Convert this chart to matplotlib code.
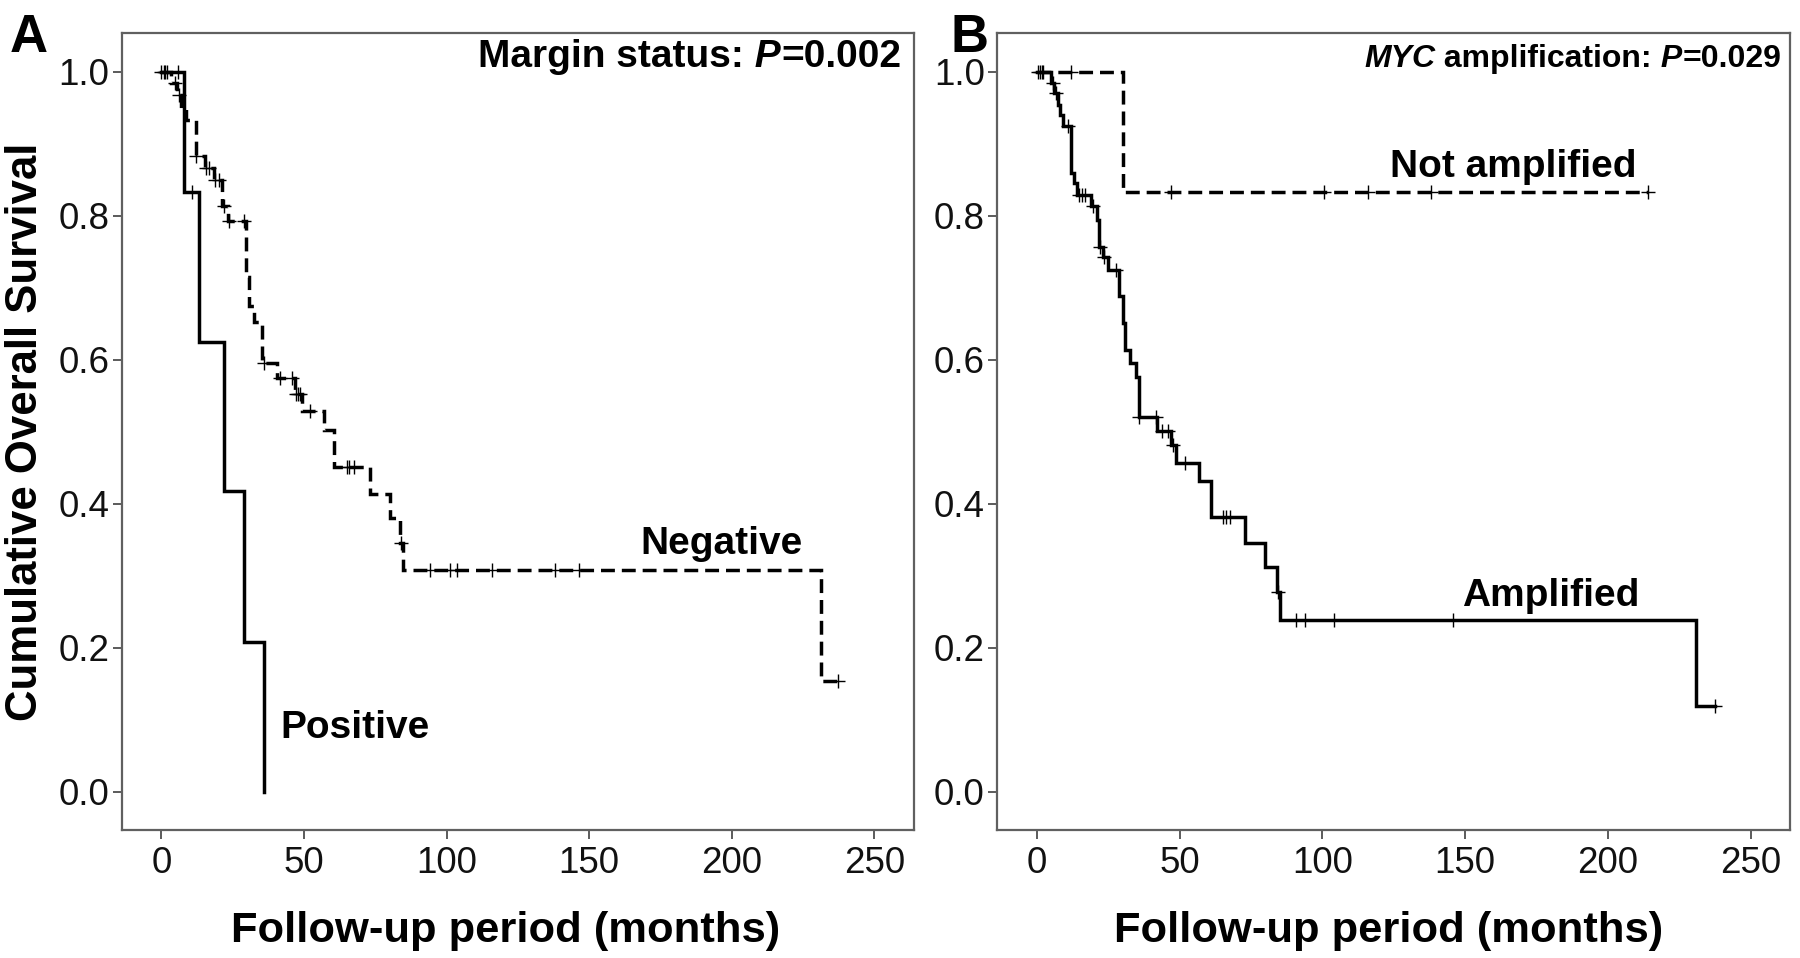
import numpy as np
import matplotlib
matplotlib.use('Agg')
import matplotlib.pyplot as plt
from matplotlib import font_manager
from matplotlib.transforms import IdentityTransform

plt.rcParams['font.family'] = ['Liberation Sans', 'DejaVu Sans']

# ---------------- data ----------------
# Panel A: margin status
neg_t = [0, 3.5, 5.5, 7.0, 8.5, 12.0, 15.2, 18.5, 21.3, 23.3, 29.8, 30.6, 32.4, 35.3,
         40.5, 47.0, 49.3, 56.9, 60.4, 73.0, 80.0, 83.8, 84.9, 231.2]
neg_s = [1.0, 0.984, 0.968, 0.950, 0.933, 0.883, 0.866, 0.850, 0.813, 0.793, 0.715, 0.674,
         0.653, 0.595, 0.574, 0.553, 0.529, 0.502, 0.451, 0.414, 0.380, 0.345, 0.308, 0.154]
neg_end = 237.4
neg_cens = [0.0, 0.8, 1.4, 2.0, 4.7, 6.1, 12.2, 15.7, 16.6, 18.9, 20.1, 21.8, 23.6, 28.9,
            36.0, 41.7, 45.8, 47.3, 48.0, 48.5, 52.0, 65.1, 65.9, 67.4, 84.1, 94.1, 101.1,
            103.6, 115.9, 138.1, 146.3, 237.4]

pos_t = [0, 8.1, 13.2, 21.8, 29.1, 36.1]
pos_s = [1.0, 0.833, 0.625, 0.417, 0.208, 0.0]
pos_end = 36.1
pos_cens = [5.7, 10.7]

# Panel B: MYC amplification
na_t = [0, 30.0]
na_s = [1.0, 0.833]
na_end = 214.1
na_cens = [1.0, 2.2, 11.9, 47.0, 100.7, 115.9, 137.9, 214.1]

amp_t = [0, 4.9, 6.0, 7.2, 8.0, 9.0, 11.9, 13.0, 14.0, 18.9, 20.9, 21.8, 23.0, 24.8, 28.9,
         30.0, 31.0, 32.5, 34.7, 35.6, 41.9, 47.0, 48.7, 56.9, 60.8, 73.0, 80.0, 84.0, 85.0,
         231.0]
amp_s = [1.0, 0.984, 0.970, 0.954, 0.940, 0.924, 0.860, 0.845, 0.829, 0.813, 0.794, 0.757,
         0.743, 0.725, 0.688, 0.651, 0.614, 0.595, 0.576, 0.521, 0.501, 0.481, 0.457, 0.432,
         0.381, 0.346, 0.312, 0.277, 0.239, 0.119]
amp_end = 237.4
amp_cens = [0.5, 1.6, 5.5, 6.5, 11.0, 14.7, 15.8, 16.9, 19.5, 22.2, 23.5, 27.7, 35.8, 41.7,
            43.8, 45.8, 47.6, 51.9, 65.1, 66.2, 67.6, 84.3, 90.8, 94.0, 104.0, 145.9, 237.4]

x_ticks = [0, 50, 100, 150, 200, 250]
y_ticks = [0.0, 0.2, 0.4, 0.6, 0.8, 1.0]
x_label = 'Follow-up period (months)'
y_label = 'Cumulative Overall Survival'

# ---------------- figure ----------------
W, H = 1800, 958
fig = plt.figure(figsize=(W / 100, H / 100), dpi=100)

def px_axes(left, top, right, bottom):
    return [left / W, 1 - bottom / H, (right - left) / W, (bottom - top) / H]

axA = fig.add_axes(px_axes(121.7, 32.7, 913.7, 830.3))
axB = fig.add_axes(px_axes(997.3, 32.7, 1790.0, 830.3))

LW = 2.5
DASH = (0, (4.0, 2.0))

def level_at(times, surv, t):
    idx = np.searchsorted(np.asarray(times), np.asarray(t), side='right') - 1
    return np.asarray(surv)[idx]

def draw_km(ax, times, surv, end, cens, ls):
    x = list(times) + [end]
    y = list(surv) + [surv[-1]]
    ax.step(x, y, where='post', color='black', lw=LW, linestyle=ls,
            solid_joinstyle='miter', dash_joinstyle='miter', dash_capstyle='butt')
    cy = level_at(times, surv, cens)
    ax.plot(cens, cy, linestyle='none', marker='+', ms=9.5, mew=1.0, color='black')

draw_km(axA, neg_t, neg_s, neg_end, neg_cens, DASH)
draw_km(axA, pos_t, pos_s, pos_end, pos_cens, '-')
draw_km(axB, na_t, na_s, na_end, na_cens, DASH)
draw_km(axB, amp_t, amp_s, amp_end, amp_cens, '-')

for ax in (axA, axB):
    ax.set_xlim(-13.9, 263.8)
    ax.set_ylim(-0.0536, 1.0542)
    ax.set_xticks(x_ticks)
    ax.set_xticklabels([str(v) for v in x_ticks])
    ax.set_yticks(y_ticks)
    ax.set_yticklabels(['%.1f' % v for v in y_ticks])
    for sp in ax.spines.values():
        sp.set_color('#606060')
        sp.set_linewidth(1.6)
    ax.tick_params(direction='out', length=6.5, width=1.2, color='#404040',
                   labelsize=26.5, labelcolor='#111111')
    ax.tick_params(axis='x', pad=4.5)
    ax.tick_params(axis='y', pad=2.5)

TI = IdentityTransform()

def ptext(x, y_img, s, size, **kw):
    return fig.text(x, H - y_img, s, fontsize=size, fontweight='bold',
                    transform=TI, **kw)

# axis labels
ptext(506, 941.7, x_label, 31.3, ha='center', va='baseline')
ptext(1389, 941.7, x_label, 31.3, ha='center', va='baseline')
ptext(26, 432, y_label, 31.5, ha='center', va='center', rotation=90)

# panel letters
ptext(10, 52, 'A', 38, ha='left', va='baseline')
ptext(951, 52, 'B', 38, ha='left', va='baseline')

# curve labels
ptext(640, 554, 'Negative', 28, ha='left', va='baseline')
ptext(280, 738, 'Positive', 28, ha='left', va='baseline')
ptext(1390, 177, 'Not amplified', 28, ha='left', va='baseline')
ptext(1462, 606, 'Amplified', 28, ha='left', va='baseline')

# titles with mixed italic parts
renderer = fig.canvas.get_renderer()

def rich_right(x_right, y_img, parts, size, family=None):
    kw = {} if family is None else {'family': family}
    objs = [ptext(0, y_img, s, size, fontstyle=st, ha='left', va='baseline', **kw)
            for s, st in parts]
    widths = [o.get_window_extent(renderer).width for o in objs]
    x = x_right - sum(widths)
    for o, w in zip(objs, widths):
        o.set_position((x, H - y_img))
        x += w

installed = {f.name for f in font_manager.fontManager.ttflist}
rich_right(901, 67, [('Margin status:', 'normal'), (' P', 'italic'), ('=0.002', 'normal')], 28)
partsB = [('MYC', 'italic'), (' amplification:', 'normal'), (' P', 'italic'), ('=0.029', 'normal')]
if 'Liberation Sans Narrow' in installed:
    rich_right(1781, 67, partsB, 27, family=['Liberation Sans Narrow', 'DejaVu Sans'])
else:
    rich_right(1781, 67, partsB, 23)

fig.savefig('out.png', dpi=100)
